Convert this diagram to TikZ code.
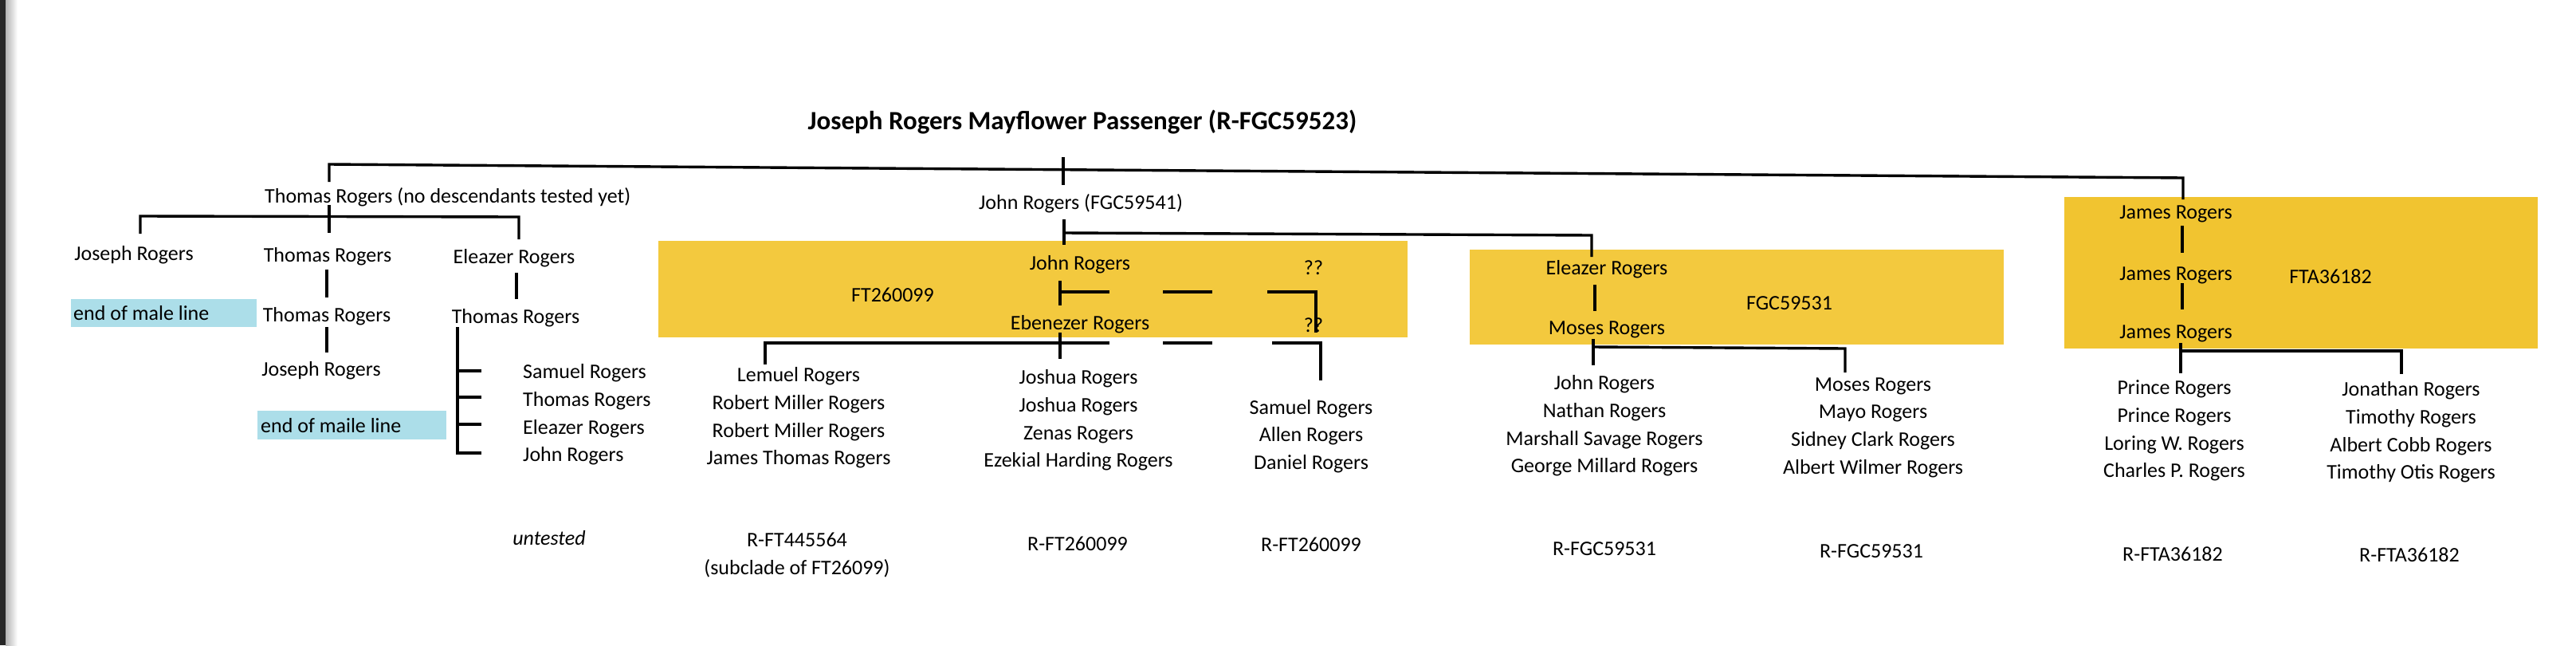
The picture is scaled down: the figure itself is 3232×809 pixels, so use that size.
\documentclass[tikz,border=0pt]{standalone}
\usepackage{fontspec}
\setmainfont{Carlito}
\definecolor{ybox}{RGB}{243,201,62}
\definecolor{yboxb}{RGB}{241,196,48}
\definecolor{bluehl}{RGB}{172,222,233}
\newcommand\nmfont{\fontsize{26}{34.7}\selectfont}
\newcommand\ttlfont{\fontsize{33}{39}\selectfont\bfseries}
\begin{document}
\begin{tikzpicture}[x=1pt,y=-1pt,
  every node/.style={inner sep=0pt,font=\nmfont},
  ln/.style={line width=3.4pt},
  dsh/.style={line width=3.4pt,dash pattern=on 62pt off 67pt},
  lst/.style={align=center},
  lstl/.style={align=left,anchor=west},
  hl/.style={fill=bluehl},
  yb/.style={fill=ybox},
  ybb/.style={fill=yboxb}]
\useasboundingbox (0,0) rectangle (3232,809);
\fill[white] (0,0) rectangle (3232,809);
\fill[black!85] (0,0) rectangle (7,809);
\shade[left color=black!30,right color=white] (7,0) rectangle (22,809);

% highlight boxes
\path[yb] (826,302) rectangle (1766,423);
\path[yb] (1844,313) rectangle (2514,432);
\path[ybb] (2590,247) rectangle (3184,437);
\path[hl] (89,375) rectangle (322,410);
\path[hl] (323,515) rectangle (560,551);

% title
\node[font=\ttlfont] (title) at (1358,153) {Joseph Rogers Mayflower Passenger (R-FGC59523)};

% main bracket
\coordinate (t0) at (1334,197); \coordinate (t1) at (1334,232);
\coordinate (mL) at (413,206); \coordinate (mLd) at (413,228);
\coordinate (mR) at (2739,223); \coordinate (mRd) at (2739,250);
\draw[ln] (mLd) -- (mL) -- (mR) -- (mRd);
\draw[ln] (t0) -- (t1);

% Thomas branch
\node[anchor=west] (tR) at (332,247) {Thomas Rogers (no descendants tested yet)};
\coordinate (tv0) at (413,257); \coordinate (tv1) at (413,292);
\coordinate (tbL) at (176,271); \coordinate (tbLd) at (176,293);
\coordinate (tbR) at (651,272); \coordinate (tbRd) at (651,300);
\draw[ln] (tv0) -- (tv1);
\draw[ln] (tbLd) -- (tbL) -- (tbR) -- (tbRd);

\node (a1) at (168,320) {Joseph Rogers};
\node (b1) at (411,322) {Thomas Rogers};
\node (c1) at (645,324) {Eleazer Rogers};
\node[anchor=west] (a2) at (92,393) {end of male line};
\node (b2) at (410,397) {Thomas Rogers};
\node (c2) at (647,399) {Thomas Rogers};
\node (b3) at (403,465) {Joseph Rogers};
\node[anchor=west] (b4) at (327,534) {end of maile line};
\node[lstl] (c3) at (656,520) {Samuel Rogers\\Thomas Rogers\\Eleazer Rogers\\John Rogers};
\node[font=\nmfont\itshape] (unt) at (689,675) {untested};

\coordinate (b1s) at (410,338); \coordinate (b2n) at (410,373);
\coordinate (b2s) at (410,410); \coordinate (b3n) at (410,442);
\coordinate (c1s) at (648,342); \coordinate (c2n) at (648,375);
\coordinate (cs0) at (574,410); \coordinate (cs1) at (574,568);
\coordinate (ck1) at (574,465); \coordinate (ck2) at (574,498);
\coordinate (ck3) at (574,532);
\draw[ln] (b1s) -- (b2n);
\draw[ln] (b2s) -- (b3n);
\draw[ln] (c1s) -- (c2n);
\draw[ln] (cs0) -- (cs1) -- ++(30,0);
\draw[ln] (ck1) -- ++(30,0);
\draw[ln] (ck2) -- ++(30,0);
\draw[ln] (ck3) -- ++(30,0);

% John branch
\node (jr) at (1356,255) {John Rogers (FGC59541)};
\coordinate (j0) at (1335,275); \coordinate (j1) at (1335,307);
\coordinate (jh) at (1335,292); \coordinate (jE) at (1997,295); \coordinate (jEd) at (1997,322);
\draw[ln] (j0) -- (j1);
\draw[ln] (jh) -- (jE) -- (jEd);

\node (e1) at (1355,332) {John Rogers};
\node (q1) at (1648,336) {??};
\node (ft1) at (1120,370) {FT260099};
\node (e2) at (1355,407) {Ebenezer Rogers};
\node (q2) at (1648,408) {??};
\coordinate (e1s) at (1330,352); \coordinate (e2n) at (1330,383);
\coordinate (d0) at (1330,366); \coordinate (d1) at (1588,366);
\coordinate (d2) at (1590,366); \coordinate (d3) at (1651,366); \coordinate (d4) at (1651,417);
\draw[ln] (e1s) -- (e2n);
\draw[dsh] (d0) -- (d1);
\draw[ln] (d2) -- (d3) -- (d4);

\coordinate (e2s) at (1330,417); \coordinate (e2d) at (1330,450);
\coordinate (lL) at (960,430); \coordinate (lLd) at (960,457);
\coordinate (lM) at (1330,430); \coordinate (lD) at (1588,430);
\coordinate (lQ) at (1596,430); \coordinate (lR) at (1657,430); \coordinate (lRd) at (1657,477);
\draw[ln] (e2s) -- (e2d);
\draw[ln] (lLd) -- (lL) -- (lM);
\draw[dsh] (lM) -- (lD);
\draw[ln] (lQ) -- (lR) -- (lRd);

\node[lst] (g1) at (1002,524) {Lemuel Rogers\\Robert Miller Rogers\\Robert Miller Rogers\\James Thomas Rogers};
\node[lst] (g2) at (1353,527) {Joshua Rogers\\Joshua Rogers\\Zenas Rogers\\Ezekial Harding Rogers};
\node[lst] (g3) at (1645,547) {Samuel Rogers\\Allen Rogers\\Daniel Rogers};
\node[lst] (h1) at (1000,696) {R-FT445564\\(subclade of FT26099)};
\node (h2) at (1352,682) {R-FT260099};
\node (h3) at (1645,683) {R-FT260099};

% Eleazer branch
\node (f1) at (2016,338) {Eleazer Rogers};
\node (ft2) at (2245,380) {FGC59531};
\node (f2) at (2016,413) {Moses Rogers};
\coordinate (f1s) at (2001,357); \coordinate (f2n) at (2001,390);
\coordinate (f2s) at (1999,425); \coordinate (f2d) at (1999,458);
\coordinate (fh) at (1999,435); \coordinate (fR) at (2315,437); \coordinate (fRd) at (2315,467);
\draw[ln] (f1s) -- (f2n);
\draw[ln] (f2s) -- (f2d);
\draw[ln] (fh) -- (fR) -- (fRd);
\node[lst] (k1) at (2013,534) {John Rogers\\Nathan Rogers\\Marshall Savage Rogers\\George Millard Rogers};
\node[lst] (k2) at (2350,536) {Moses Rogers\\Mayo Rogers\\Sidney Clark Rogers\\Albert Wilmer Rogers};
\node (k3) at (2013,688) {R-FGC59531};
\node (k4) at (2348,691) {R-FGC59531};

% James branch
\node (p1) at (2730,268) {James Rogers};
\node (p2) at (2730,345) {James Rogers};
\node (ft3) at (2924,347) {FTA36182};
\node (p3) at (2730,418) {James Rogers};
\coordinate (p1s) at (2738,283); \coordinate (p2n) at (2738,317);
\coordinate (p2s) at (2738,355); \coordinate (p3n) at (2738,388);
\coordinate (p3s) at (2736,430); \coordinate (p3d) at (2736,468);
\coordinate (ph) at (2736,440); \coordinate (pR) at (3013,440); \coordinate (pRd) at (3013,469);
\draw[ln] (p1s) -- (p2n);
\draw[ln] (p2s) -- (p3n);
\draw[ln] (p3s) -- (p3d);
\draw[ln] (ph) -- (pR) -- (pRd);
\node[lst] (r1) at (2728,540) {Prince Rogers\\Prince Rogers\\Loring W. Rogers\\Charles P. Rogers};
\node[lst] (r2) at (3025,542) {Jonathan Rogers\\Timothy Rogers\\Albert Cobb Rogers\\Timothy Otis Rogers};
\node (r3) at (2726,695) {R-FTA36182};
\node (r4) at (3023,696) {R-FTA36182};
\end{tikzpicture}
\end{document}
